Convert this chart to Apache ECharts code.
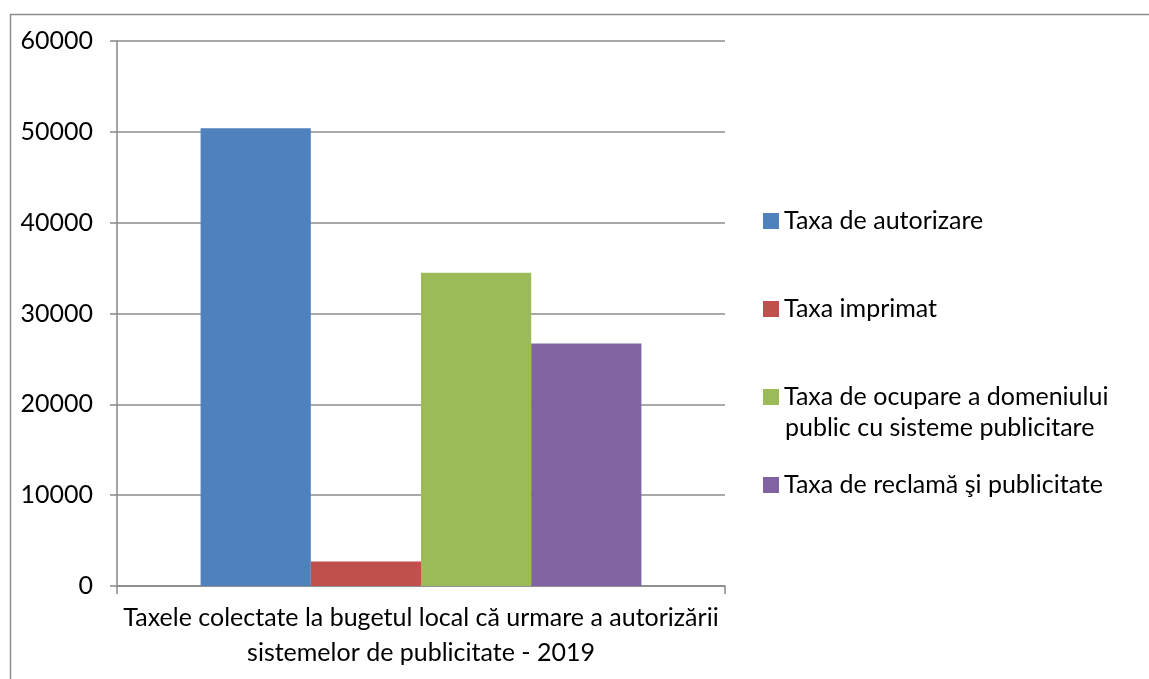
<!DOCTYPE html>
<html>
<head>
<meta charset="utf-8">
<script src="https://cdn.jsdelivr.net/npm/echarts@6/dist/echarts.min.js"></script>
<style>
  html, body { margin: 0; padding: 0; background: #fff; }
  #chart { width: 1149px; height: 679px; }
</style>
</head>
<body>
<div id="chart"></div>
<script>
// date
const categories = ['Taxele colectate la bugetul local că urmare a autorizării\nsistemelor de publicitate - 2019']
const seriesNames = [
  'Taxa de autorizare',
  'Taxa imprimat',
  'Taxa de ocupare a domeniului\npublic cu sisteme publicitare',
  'Taxa de reclamă şi publicitate'
]
const seriesValues = [50400, 2700, 34500, 26700]
const seriesColors = ['#4F81BD', '#C0504D', '#9BBB59', '#8064A2']
const legendCenters = [221, 309, 397, 485]

const font = 'Lato, "Open Sans", sans-serif'
const LH = 31

const chart = echarts.init(document.getElementById('chart'), null, { renderer: 'canvas' })

// randurile de dupa primul, pentru legendele pe doua randuri
const extraLines = []
seriesNames.forEach((name, i) => {
  name.split('\n').slice(1).forEach((line, k) => {
    extraLines.push({
      type: 'text',
      left: 785,
      top: legendCenters[i] + (k + 1) * LH - LH / 2,
      silent: true,
      style: {
        text: line,
        fontFamily: font,
        fontSize: 25,
        lineHeight: LH,
        fill: '#000'
      }
    })
  })
})

const options = {
  animation: false,
  backgroundColor: '#fff',
  textStyle: { fontFamily: font },
  grid: {
    left: 117,
    right: 424,
    top: 41,
    bottom: 93,
    containLabel: false
  },
  graphic: [
    {
      type: 'rect',
      left: 8,
      top: 12,
      shape: { width: 1200, height: 720 },
      style: { fill: 'none', stroke: '#8c8c8c', lineWidth: 1.5 },
      silent: true
    }
  ].concat(extraLines),
  // o legenda pe fiecare element, ca sa pastram spatierea din original
  legend: seriesNames.map((name, i) => ({
    data: [name],
    left: 758,
    top: legendCenters[i] - 5 - LH / 2,
    orient: 'vertical',
    itemWidth: 16,
    itemHeight: 16,
    icon: 'rect',
    selectedMode: false,
    formatter: (n) => n.split('\n')[0],
    textStyle: {
      fontFamily: font,
      fontSize: 25,
      color: '#000',
      lineHeight: LH
    }
  })),
  xAxis: {
    type: 'category',
    data: categories,
    axisLine: { lineStyle: { color: '#888', width: 1.5 } },
    axisTick: { show: true, interval: 0, length: 8, lineStyle: { color: '#888', width: 1.5 } },
    axisLabel: {
      fontFamily: font,
      fontSize: 25,
      color: '#000',
      lineHeight: 35,
      margin: 14
    }
  },
  yAxis: {
    type: 'value',
    min: 0,
    max: 60000,
    interval: 10000,
    axisLine: { show: true, lineStyle: { color: '#888', width: 1.5 } },
    axisTick: { show: true, length: 7, lineStyle: { color: '#888', width: 1.5 } },
    splitLine: { lineStyle: { color: '#8c8c8c', width: 1.5 } },
    axisLabel: {
      fontFamily: font,
      fontSize: 25,
      color: '#000',
      margin: 24,
      formatter: (v) => String(v)
    }
  },
  series: seriesNames.map((name, i) => ({
    name: name,
    type: 'bar',
    data: [seriesValues[i]],
    barGap: '0%',
    barCategoryGap: '27.5%',
    itemStyle: { color: seriesColors[i] }
  }))
}

chart.setOption(options)
window.addEventListener('resize', () => chart.resize())
</script>
</body>
</html>
